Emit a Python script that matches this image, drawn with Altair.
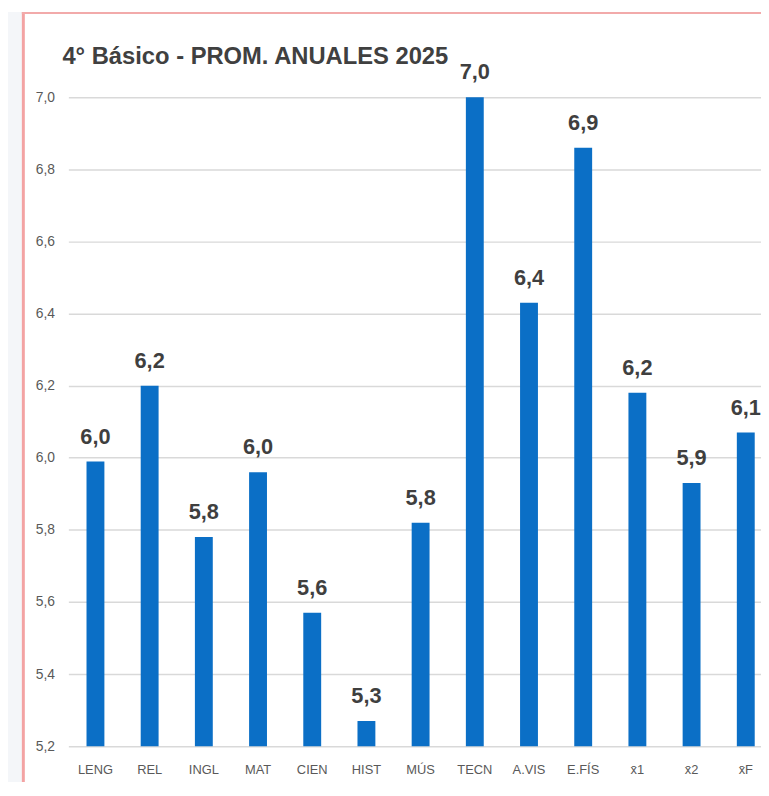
import altair as alt
import pandas as pd

subjects = ["LENG", "REL", "INGL", "MAT", "CIEN", "HIST", "MÚS", "TECN",
            "A.VIS", "E.FÍS", "x\u03041", "x\u03042", "x\u0304F"]
averages = [5.99, 6.20, 5.78, 5.96, 5.57, 5.27, 5.82, 7.00, 6.43, 6.86, 6.18, 5.93, 6.07]
y_ticks = [5.2, 5.4, 5.6, 5.8, 6.0, 6.2, 6.4, 6.6, 6.8, 7.0]
y_min, y_max = 5.2, 7.0
title_text = "4° Básico - PROM. ANUALES 2025"

df = pd.DataFrame({"asignatura": subjects, "promedio": averages})
deco = pd.DataFrame({"k": [0]})

FONT = "Liberation Sans, Arial, sans-serif"
COMMA = "replace(format(datum.value, '.1f'), '.', ',')"

x_enc = alt.X(
    "asignatura:N", sort=subjects,
    scale=alt.Scale(range=[0, 712], paddingInner=0.67, paddingOuter=0.335),
    axis=alt.Axis(title=None, labelAngle=0, ticks=False, domain=False, grid=False,
                  labelFont=FONT, labelFontSize=13, labelColor="#595959", labelPadding=18),
)
y_enc = alt.Y(
    "promedio:Q",
    scale=alt.Scale(domain=[y_min, y_max], zero=False, nice=False),
    axis=alt.Axis(title=None, values=y_ticks, labelExpr=COMMA, ticks=False, domain=False,
                  grid=True, gridColor="#d9d9d9", gridWidth=1.5,
                  labelFont=FONT, labelFontSize=14, labelColor="#595959", labelPadding=14),
)

bars = alt.Chart(df).mark_bar(color="#0b6fc6").encode(x=x_enc, y=y_enc, y2=alt.datum(y_min))

labels = alt.Chart(df).transform_calculate(
    lbl="replace(format(datum.promedio, '.1f'), '.', ',')"
).mark_text(
    dy=-18, baseline="alphabetic", font=FONT, fontSize=22, fontWeight="bold", color="#3f3f3f"
).encode(
    x=alt.X("asignatura:N", sort=subjects),
    y="promedio:Q",
    text="lbl:N",
)

title = alt.Chart(deco).mark_text(
    text=title_text, align="left", baseline="alphabetic", font=FONT, fontSize=24,
    fontWeight="bold", color="#404040"
).encode(x=alt.value(-6), y=alt.value(-34))

left_strip = alt.Chart(deco).mark_rect(color="#f4f6f9").encode(
    x=alt.value(-61), x2=alt.value(-47), y=alt.value(-86), y2=alt.value(700))
pink_v = alt.Chart(deco).mark_rect(color="#f3a3a3").encode(
    x=alt.value(-47), x2=alt.value(-44), y=alt.value(-86), y2=alt.value(700))
pink_top = alt.Chart(deco).mark_rect(color="#f2aaaa").encode(
    x=alt.value(-47), x2=alt.value(720), y=alt.value(-86), y2=alt.value(-84))

chart = alt.layer(left_strip, pink_v, pink_top, bars, labels, title).properties(
    width=700,
    height=656,
    padding={"left": 61, "top": 86, "right": 0, "bottom": 32},
    autosize=alt.AutoSizeParams(type="none"),
    background="white",
).configure_view(stroke=None)

chart.save("out.html", embed_options={"renderer": "svg", "actions": False})
